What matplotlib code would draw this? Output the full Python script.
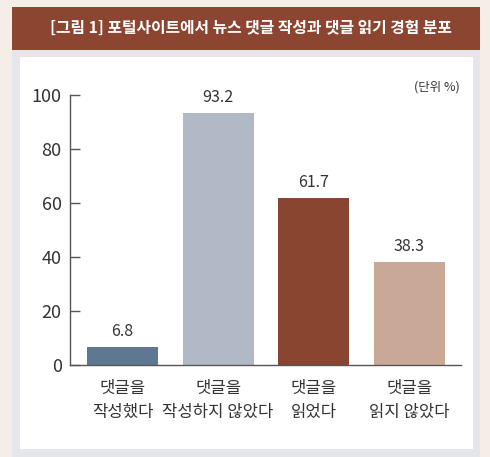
import matplotlib
matplotlib.use("Agg")
import matplotlib.pyplot as plt
from matplotlib.patches import Rectangle

plt.rcParams['font.family'] = ['Noto Sans CJK KR', 'DejaVu Sans']

# data
categories = ['댓글을\n작성했다', '댓글을\n작성하지 않았다', '댓글을\n읽었다', '댓글을\n읽지 않았다']
values = [6.8, 93.2, 61.7, 38.3]
bar_colors = ['#5f7891', '#b1b9c6', '#8a4530', '#caa898']
yticks = [0, 20, 40, 60, 80, 100]
title = '[그림 1] 포털사이트에서 뉴스 댓글 작성과 댓글 읽기 경험 분포'
unit = '(단위 %)'

W, H = 490, 457
fig = plt.figure(figsize=(W / 100, H / 100), dpi=100)
fig.patch.set_facecolor('#f4ede8')

def px_rect(x0, y0, x1, y1, color):
    # pixel coords measured from the top-left
    fig.patches.append(Rectangle((x0 / W, 1 - y1 / H), (x1 - x0) / W, (y1 - y0) / H,
                                 transform=fig.transFigure, facecolor=color,
                                 edgecolor='none', zorder=-5))

px_rect(12, 7, 480, 457, '#e5e6ea')
px_rect(12, 7, 480, 50, '#8b4530')
px_rect(20, 57, 473, 449, 'white')

fig.text(251 / W, 1 - 28 / H, title, color='white', fontsize=11.4, fontweight='bold',
         ha='center', va='center')

ax = fig.add_axes([70 / W, 92 / H, 391 / W, 270 / H])
ax.set_zorder(5)
ax.set_facecolor('none')
x = range(len(values))
ax.bar(x, values, width=0.74, color=bar_colors)
ax.set_xlim(-0.55, 3.54)
ax.set_ylim(0, 100)
ax.set_yticks(yticks)
for s in ['top', 'right']:
    ax.spines[s].set_visible(False)
for s in ['left', 'bottom']:
    ax.spines[s].set_color('#555555')
    ax.spines[s].set_linewidth(1.0)
ax.tick_params(axis='y', direction='in', length=7, width=1, color='#555555',
               labelsize=13, labelcolor='#333333', pad=6)
ax.tick_params(axis='x', length=0, labelsize=12, labelcolor='#333333', pad=11)
ax.set_xticks(list(x))
ax.set_xticklabels(categories, linespacing=1.5)

for i, v in enumerate(values):
    ax.annotate(f'{v}', (i, v), xytext=(0, 5), textcoords='offset points',
                ha='center', va='bottom', fontsize=11.5, color='#333333')

fig.text(460 / W, 1 - 87 / H, unit, ha='right', va='center', fontsize=9, color='#333333')

fig.savefig('out.png', dpi=100, facecolor=fig.get_facecolor())
